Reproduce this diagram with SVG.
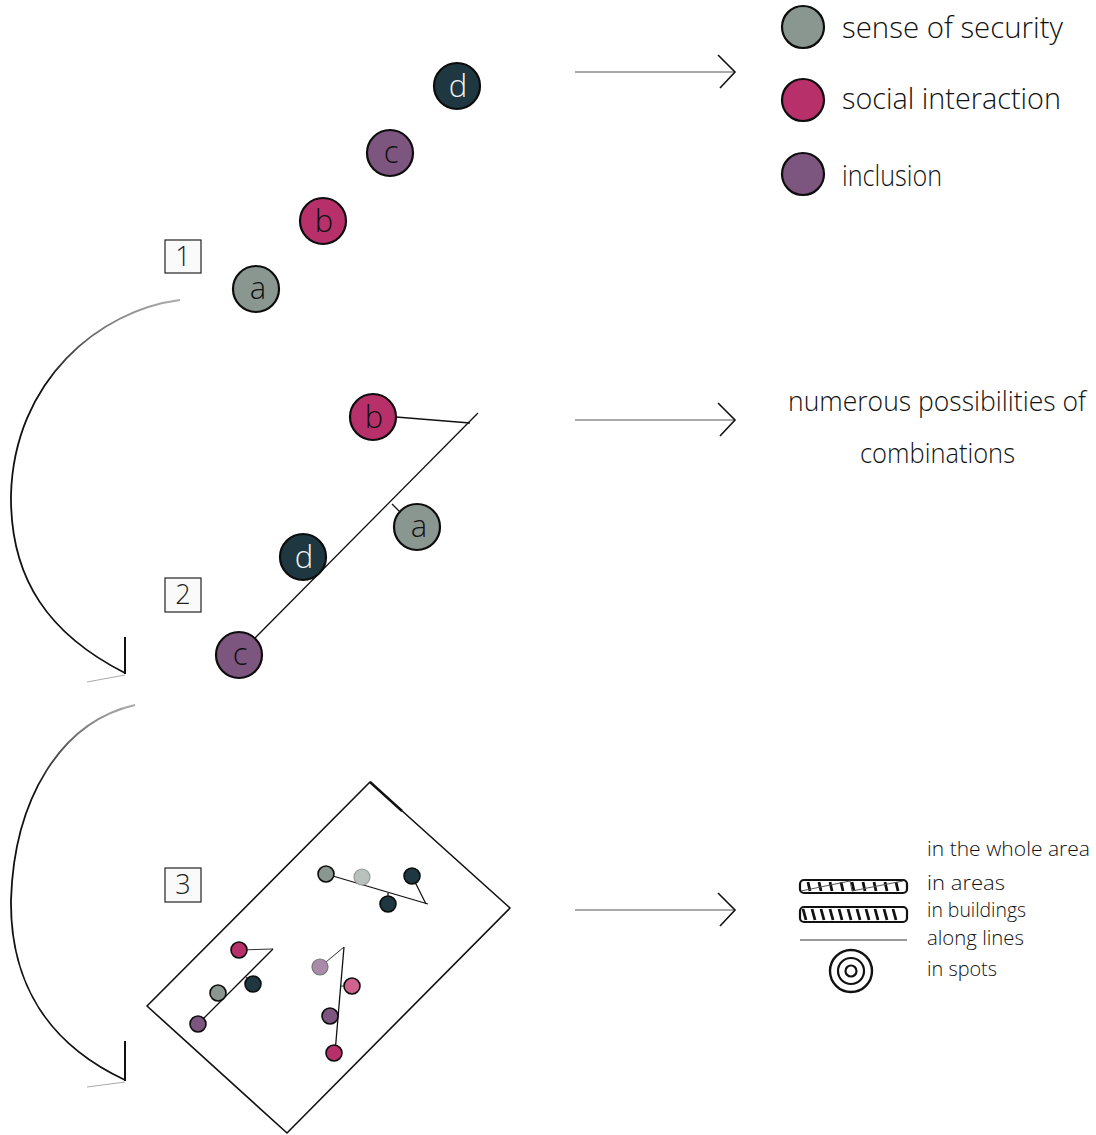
<svg xmlns="http://www.w3.org/2000/svg" width="1096" height="1135" viewBox="0 0 1096 1135">
  <style>
    .hand { font-family: "Open Sans", "DejaVu Sans", sans-serif; font-weight: 300; fill: #111; }
    .ltr { font-family: "Open Sans", "DejaVu Sans", sans-serif; font-weight: 300; font-size: 31px; text-anchor: middle; fill: #111; }
    .ltr-w { fill: #f2f2f2; }
    .dot { stroke: #0d0d0d; stroke-width: 2.2; }
    .sdot { stroke: #0d0d0d; stroke-width: 1.6; }
    .sec { fill: #fafafa; stroke: #222; stroke-width: 1.2; }
    .num { font-family: "Open Sans", "DejaVu Sans", sans-serif; font-weight: 300; font-size: 27px; text-anchor: middle; fill: #222; }
    .ln { stroke: #111; stroke-width: 1.3; fill: none; }
    .thin { stroke: #333; stroke-width: 1; fill: none; }
    .gray { fill: #8a9790; }
    .lgray { fill: #b9c1bd; }
    .pink { fill: #b8306a; }
    .lpink { fill: #d0628e; }
    .purple { fill: #7d5680; }
    .lpurple { fill: #a98aa8; }
    .dark { fill: #1e3740; }
  </style>
  <defs>
    <linearGradient id="fadeTop" x1="0" y1="0" x2="0" y2="1">
      <stop offset="0" stop-color="#aaa"/>
      <stop offset="0.22" stop-color="#111"/>
      <stop offset="1" stop-color="#111"/>
    </linearGradient>
    <g id="arrowRight">
      <line x1="0" y1="0" x2="160" y2="0" stroke="#555" stroke-width="1.2"/>
      <polyline points="143,-17 160,0 145,16" fill="none" stroke="#111" stroke-width="1.6"/>
    </g>
  </defs>

  <!-- connectors: curved step arrows and right-pointing arrows -->
  <g id="connectors">
    <path d="M180,300 C100,310 14,380 11,495 C10,580 50,635 125,673" fill="none" stroke="url(#fadeTop)" stroke-width="1.8"/>
    <line x1="125" y1="637" x2="125" y2="674" stroke="#111" stroke-width="2"/>
    <line x1="125" y1="675" x2="87" y2="682" stroke="#aaa" stroke-width="1"/>

    <path d="M135,705 C60,722 14,800 11,900 C10,985 50,1045 125,1080" fill="none" stroke="url(#fadeTop)" stroke-width="1.8"/>
    <line x1="125" y1="1041" x2="125" y2="1081" stroke="#111" stroke-width="2"/>
    <line x1="125" y1="1082" x2="87" y2="1087" stroke="#aaa" stroke-width="1"/>

    <use href="#arrowRight" x="575" y="72"/>
    <use href="#arrowRight" x="575" y="420"/>
    <use href="#arrowRight" x="575" y="910"/>
  </g>

  <!-- step 1: the four qualities in a row -->
  <g id="step1">
    <rect class="sec" x="165" y="240" width="36" height="33"/>
    <text class="num" x="183" y="266">1</text>
    <circle class="dot gray" cx="256" cy="289" r="23"/>
    <text class="ltr" x="258" y="299">a</text>
    <circle class="dot pink" cx="323" cy="221" r="23"/>
    <text class="ltr" x="324" y="232">b</text>
    <circle class="dot purple" cx="390" cy="153" r="23"/>
    <text class="ltr" x="391" y="163">c</text>
    <circle class="dot dark" cx="457" cy="86" r="23"/>
    <text class="ltr ltr-w" x="458" y="97">d</text>
  </g>

  <!-- step 2: one combination along a line -->
  <g id="step2">
    <rect class="sec" x="165" y="578" width="36" height="34"/>
    <text class="num" x="183" y="604">2</text>
    <line class="ln" x1="478" y1="413" x2="253" y2="640"/>
    <line class="ln" x1="396" y1="417" x2="470" y2="423"/>
    <line class="ln" x1="392" y1="504" x2="403" y2="515" stroke-width="2"/>
    <circle class="dot pink" cx="373" cy="417" r="23"/>
    <text class="ltr" x="374" y="428">b</text>
    <circle class="dot gray" cx="417" cy="527" r="23"/>
    <text class="ltr" x="419" y="537">a</text>
    <circle class="dot dark" cx="303" cy="557" r="23"/>
    <text class="ltr ltr-w" x="304" y="568">d</text>
    <circle class="dot purple" cx="239" cy="655" r="23"/>
    <text class="ltr" x="240" y="665">c</text>
  </g>

  <!-- step 3: combinations placed in an area -->
  <g id="step3">
    <rect class="sec" x="165" y="868" width="36" height="34"/>
    <text class="num" x="183" y="894">3</text>
    <polygon points="370,782 510,908 287,1133 147,1006" fill="none" stroke="#111" stroke-width="1.6" stroke-linejoin="round"/>
    <line x1="370" y1="782" x2="402" y2="811" stroke="#111" stroke-width="2.4"/>

    <!-- upper cluster -->
    <line class="ln" x1="326" y1="874" x2="428" y2="904"/>
    <line class="ln" x1="412" y1="876" x2="426" y2="904" stroke-width="1.8"/>
    <line class="ln" x1="388" y1="893" x2="388" y2="899"/>
    <circle class="sdot gray" cx="326" cy="874" r="8"/>
    <circle class="lgray" cx="362" cy="877" r="8" stroke="#999" stroke-width="1.2"/>
    <circle class="sdot dark" cx="412" cy="876" r="8"/>
    <circle class="sdot dark" cx="388" cy="904" r="8"/>

    <!-- left cluster -->
    <line class="thin" x1="239" y1="950" x2="273" y2="949"/>
    <line class="ln" x1="273" y1="949" x2="198" y2="1024"/>
    <line class="thin" x1="246" y1="977" x2="250" y2="981"/>
    <circle class="sdot pink" cx="239" cy="950" r="8"/>
    <circle class="sdot gray" cx="218" cy="993" r="8"/>
    <circle class="sdot dark" cx="253" cy="984" r="8"/>
    <circle class="sdot purple" cx="198" cy="1024" r="8"/>

    <!-- right cluster -->
    <line class="thin" x1="320" y1="967" x2="344" y2="947"/>
    <line class="ln" x1="344" y1="947" x2="335" y2="1053" stroke-width="1.8"/>
    <line class="thin" x1="341" y1="986" x2="352" y2="986"/>
    <circle class="lpurple" cx="320" cy="967" r="8" stroke="#777" stroke-width="1.2"/>
    <circle class="sdot lpink" cx="352" cy="986" r="8"/>
    <circle class="sdot purple" cx="330" cy="1016" r="8"/>
    <circle class="sdot pink" cx="334" cy="1053" r="8"/>
  </g>

  <!-- legend: colour meanings -->
  <g id="legend-colours">
    <circle class="dot gray" cx="803" cy="27" r="21"/>
    <text class="hand" x="842" y="38" font-size="30" textLength="221" lengthAdjust="spacingAndGlyphs">sense of security</text>
    <circle class="dot pink" cx="803" cy="100" r="21"/>
    <text class="hand" x="842" y="109" font-size="30" textLength="219" lengthAdjust="spacingAndGlyphs">social interaction</text>
    <circle class="dot purple" cx="803" cy="174" r="21"/>
    <text class="hand" x="842" y="186" font-size="30" textLength="100" lengthAdjust="spacingAndGlyphs">inclusion</text>
  </g>

  <!-- note on combinations -->
  <g id="note-combinations">
    <text class="hand" x="788" y="411" font-size="27" textLength="298" lengthAdjust="spacingAndGlyphs">numerous possibilities of</text>
    <text class="hand" x="860" y="463" font-size="28" textLength="155" lengthAdjust="spacingAndGlyphs">combinations</text>
  </g>

  <!-- legend: spatial extents -->
  <g id="legend-extent">
    <text class="hand" x="927" y="856" font-size="21" textLength="163" lengthAdjust="spacingAndGlyphs">in the whole area</text>

    <rect x="800" y="880" width="107" height="13" rx="4" fill="none" stroke="#111" stroke-width="2.2"/>
    <g stroke="#111" stroke-width="2.8">
      <line x1="808" y1="882" x2="810" y2="891"/>
      <line x1="819" y1="882" x2="821" y2="891"/>
      <line x1="830" y1="882" x2="832" y2="891"/>
      <line x1="841" y1="882" x2="843" y2="891"/>
      <line x1="852" y1="882" x2="854" y2="891"/>
      <line x1="863" y1="882" x2="865" y2="891"/>
      <line x1="874" y1="882" x2="876" y2="891"/>
      <line x1="885" y1="882" x2="887" y2="891"/>
      <line x1="896" y1="882" x2="898" y2="891"/>
    </g>
    <polyline points="801,891 850,881 852,891 903,881" fill="none" stroke="#555" stroke-width="1"/>
    <text class="hand" x="927" y="890" font-size="20" textLength="78" lengthAdjust="spacingAndGlyphs">in areas</text>

    <rect x="800" y="907" width="107" height="15" rx="4" fill="none" stroke="#111" stroke-width="2.2"/>
    <g stroke="#111" stroke-width="2.8">
      <line x1="803" y1="909" x2="806" y2="920"/>
      <line x1="812" y1="909" x2="815" y2="920"/>
      <line x1="821" y1="909" x2="824" y2="920"/>
      <line x1="830" y1="909" x2="833" y2="920"/>
      <line x1="839" y1="909" x2="842" y2="920"/>
      <line x1="848" y1="909" x2="851" y2="920"/>
      <line x1="857" y1="909" x2="860" y2="920"/>
      <line x1="866" y1="909" x2="869" y2="920"/>
      <line x1="875" y1="909" x2="878" y2="920"/>
      <line x1="884" y1="909" x2="887" y2="920"/>
      <line x1="893" y1="909" x2="896" y2="920"/>
    </g>
    <text class="hand" x="927" y="917" font-size="20" textLength="99" lengthAdjust="spacingAndGlyphs">in buildings</text>

    <line x1="800" y1="940" x2="907" y2="940" stroke="#333" stroke-width="1.2"/>
    <text class="hand" x="927" y="945" font-size="20" textLength="97" lengthAdjust="spacingAndGlyphs">along lines</text>

    <circle cx="851" cy="971" r="21" fill="none" stroke="#111" stroke-width="2.4"/>
    <circle cx="851" cy="971" r="13" fill="none" stroke="#111" stroke-width="2.2"/>
    <circle cx="851" cy="971" r="5.5" fill="none" stroke="#111" stroke-width="2.2"/>
    <text class="hand" x="927" y="976" font-size="20" textLength="70" lengthAdjust="spacingAndGlyphs">in spots</text>
  </g>
</svg>
